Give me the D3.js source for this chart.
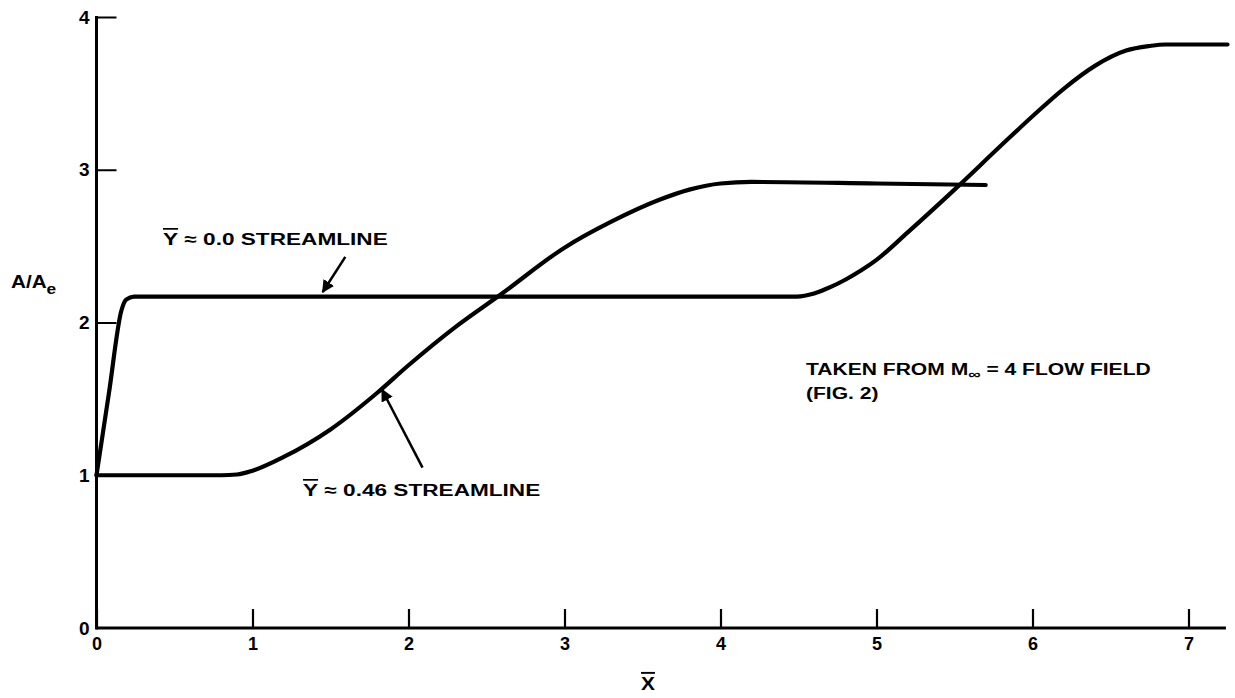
<!DOCTYPE html>
<html><head><meta charset="utf-8">
<script src="https://cdn.jsdelivr.net/npm/d3@7"></script>
<style>
html,body{margin:0;padding:0;background:#fff;}
text{font-family:"Liberation Sans",Arial,sans-serif;font-weight:bold;fill:#000;}
</style></head>
<body><svg id="chart" width="1235" height="698"></svg>
<script>
// ---- data ----
const xTicks = [0, 1, 2, 3, 4, 5, 6, 7];
const yTicks = [0, 1, 2, 3, 4];
const stream0X = [0, 0.08, 0.16, 0.19, 0.24, 1, 2, 3, 4, 4.49, 4.6, 4.7, 4.8, 4.9, 5.0, 5.2, 5.5, 5.8, 6.0, 6.2, 6.4, 6.6, 6.75, 6.85, 7.0, 7.25];
const stream0Y = [1, 1.54, 2.08, 2.15, 2.17, 2.17, 2.17, 2.17, 2.17, 2.17, 2.19, 2.23, 2.28, 2.34, 2.41, 2.59, 2.87, 3.16, 3.35, 3.53, 3.68, 3.78, 3.81, 3.82, 3.82, 3.82];
const stream46X = [0, 0.5, 0.8, 0.9, 1.0, 1.2, 1.5, 1.8, 2.0, 2.3, 2.6, 3.0, 3.3, 3.6, 3.8, 4.0, 4.2, 5.0, 5.7];
const stream46Y = [1, 1, 1, 1.005, 1.03, 1.12, 1.30, 1.54, 1.72, 1.97, 2.19, 2.49, 2.66, 2.80, 2.87, 2.91, 2.92, 2.91, 2.90];
const xMax = 7.24;

// ---- scales ----
const svg = d3.select("#chart");
const x = d3.scaleLinear().domain([0, 7]).range([96.5, 1188.5]);
const y = d3.scaleLinear().domain([0, 4]).range([628, 17]);

// ---- axes ----
const xAxis = d3.axisBottom(x).tickValues(xTicks).tickSizeInner(-19).tickSizeOuter(0).tickPadding(8).tickFormat(d3.format("d"));
const gx = svg.append("g").attr("transform", `translate(0,${y(0)})`).call(xAxis);
gx.attr("font-size", null).attr("font-family", null);
gx.select(".domain").remove();
gx.selectAll(".tick line").attr("stroke", "#000").attr("stroke-width", 2.2);
gx.selectAll(".tick text").style("font-size", "18px").attr("dy", "0.8em");

const yAxis = d3.axisLeft(y).tickValues(yTicks).tickSizeInner(-20).tickSizeOuter(0).tickPadding(7).tickFormat(d3.format("d"));
const gy = svg.append("g").attr("transform", `translate(${x(0)},0)`).call(yAxis);
gy.attr("font-size", null).attr("font-family", null);
gy.select(".domain").remove();
gy.selectAll(".tick line").attr("stroke", "#000").attr("stroke-width", 2);
gy.selectAll(".tick text").style("font-size", "19px");
gy.selectAll(".tick").filter(d => d === 0).select("line").remove();

// axis lines
svg.append("line").attr("x1", x(0)).attr("x2", x(xMax)).attr("y1", y(0)).attr("y2", y(0))
  .attr("stroke", "#000").attr("stroke-width", 3);
svg.append("line").attr("x1", x(0)).attr("x2", x(0)).attr("y1", y(0) + 1.5).attr("y2", y(4) - 1)
  .attr("stroke", "#000").attr("stroke-width", 3);

// wide text helper (reference lettering is a wide grotesque)
function wide(px, py, sx, size) {
  return svg.append("g").attr("transform", `translate(${px},${py}) scale(${sx},1)`)
    .append("text").attr("x", 0).attr("y", 0).attr("font-size", size);
}

// axis titles
const yt = wide(11, 288, 1.15, 18);
yt.append("tspan").text("A/A");
yt.append("tspan").attr("font-size", 15).attr("dy", 6).text("e");
const xt = wide(648, 690, 1.1, 19);
xt.attr("text-anchor", "middle");
xt.append("tspan").style("text-decoration", "overline").text("X");

// ---- curves ----
const line = d3.line().x(d => x(d[0])).y(d => y(d[1])).curve(d3.curveMonotoneX);
const s0 = stream0X.map((v, i) => [v, stream0Y[i]]);
const s46 = stream46X.map((v, i) => [v, stream46Y[i]]);
[s0, s46].forEach(s => {
  svg.append("path").datum(s).attr("d", line).attr("fill", "none")
    .attr("stroke", "#000").attr("stroke-width", 4.2).attr("stroke-linecap", "round").attr("stroke-linejoin", "round");
});

// ---- annotations ----
const defs = svg.append("defs");
defs.append("marker").attr("id", "arr").attr("viewBox", "0 0 10 10").attr("refX", 9).attr("refY", 5)
  .attr("markerWidth", 5).attr("markerHeight", 5).attr("orient", "auto")
  .append("path").attr("d", "M0,0 L10,5 L0,10 Z").attr("fill", "#000");

function arrow(x1, y1, x2, y2) {
  svg.append("line").attr("x1", x(x1)).attr("y1", y(y1)).attr("x2", x(x2)).attr("y2", y(y2))
    .attr("stroke", "#000").attr("stroke-width", 2.5).attr("marker-end", "url(#arr)");
}
arrow(1.595, 2.43, 1.45, 2.2);
arrow(2.09, 1.05, 1.83, 1.56);

function yLabel(px, py, sx, rest) {
  const t = wide(px, py, sx, 17);
  t.append("tspan").style("text-decoration", "overline").text("Y");
  t.append("tspan").text(rest);
}
yLabel(163, 245, 1.33, " \u2248  0.0 STREAMLINE");
yLabel(303, 496, 1.33, " \u2248 0.46 STREAMLINE");

const tk = wide(806, 375, 1.24, 17);
tk.append("tspan").text("TAKEN FROM M");
tk.append("tspan").attr("font-size", 14).attr("dy", 4).text("\u221E");
tk.append("tspan").attr("dy", -4).text(" = 4 FLOW FIELD");
wide(806, 399, 1.24, 17).text("(FIG. 2)");
</script>
</body></html>
